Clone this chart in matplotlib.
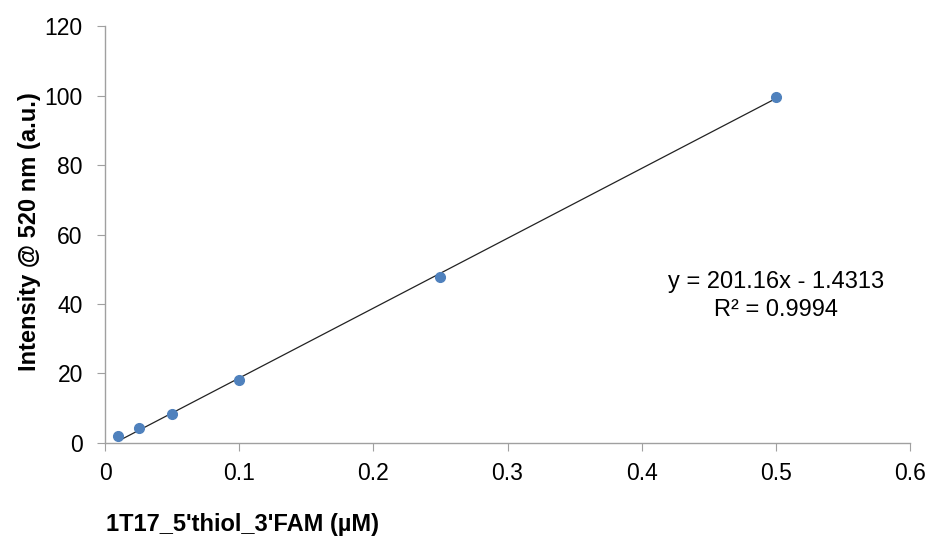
import numpy as np
import matplotlib.pyplot as plt

plt.rcParams['font.family'] = ['Liberation Sans', 'DejaVu Sans']

# concentration (uM) vs fluorescence intensity
conc = [0.01, 0.025, 0.05, 0.1, 0.25, 0.5]
intensity = [2.0, 4.4, 8.3, 18.2, 47.8, 99.7]

# linear fit shown on the chart
slope = 201.16
intercept = -1.4313
r2 = 0.9994

fig = plt.figure(figsize=(9.35, 5.45), dpi=100)
ax = fig.add_axes([0.1123, 0.1872, 0.861, 0.765])

xfit = np.array([min(conc), max(conc)])
ax.plot(xfit, slope * xfit + intercept, color='#222222', lw=0.9, zorder=2)
ax.plot(conc, intensity, 'o', color='#4F81BD', ms=7, zorder=3)

ax.set_xlim(0, 0.6)
ax.set_ylim(0, 120)
ax.set_xticks(np.arange(0, 0.61, 0.1))
ax.set_xticklabels(['0', '0.1', '0.2', '0.3', '0.4', '0.5', '0.6'])
ax.set_yticks(range(0, 121, 20))

for s in ['top', 'right']:
    ax.spines[s].set_visible(False)
for s in ['left', 'bottom']:
    ax.spines[s].set_color('#A0A0A0')
    ax.spines[s].set_linewidth(1)
ax.tick_params(direction='out', length=6, color='#A0A0A0', labelsize=16.5)
ax.tick_params(axis='y', pad=10)
ax.tick_params(axis='x', pad=8)

fig.text(30 / 935, 1 - 232 / 545, 'Intensity @ 520 nm (a.u.)', fontsize=17,
         fontweight='bold', rotation=90, ha='center', va='center')
fig.text(243 / 935, 1 - 524 / 545, "1T17_5'thiol_3'FAM (µM)", fontsize=17,
         fontweight='bold', ha='center', va='center')

ax.text(0.5003, 46.3, 'y = %.2fx - %.4f' % (slope, -intercept), fontsize=17,
        ha='center', va='center')
ax.text(0.5003, 38.3, 'R² = %.4f' % r2, fontsize=17, ha='center', va='center')

fig.savefig('out.png', dpi=100)
